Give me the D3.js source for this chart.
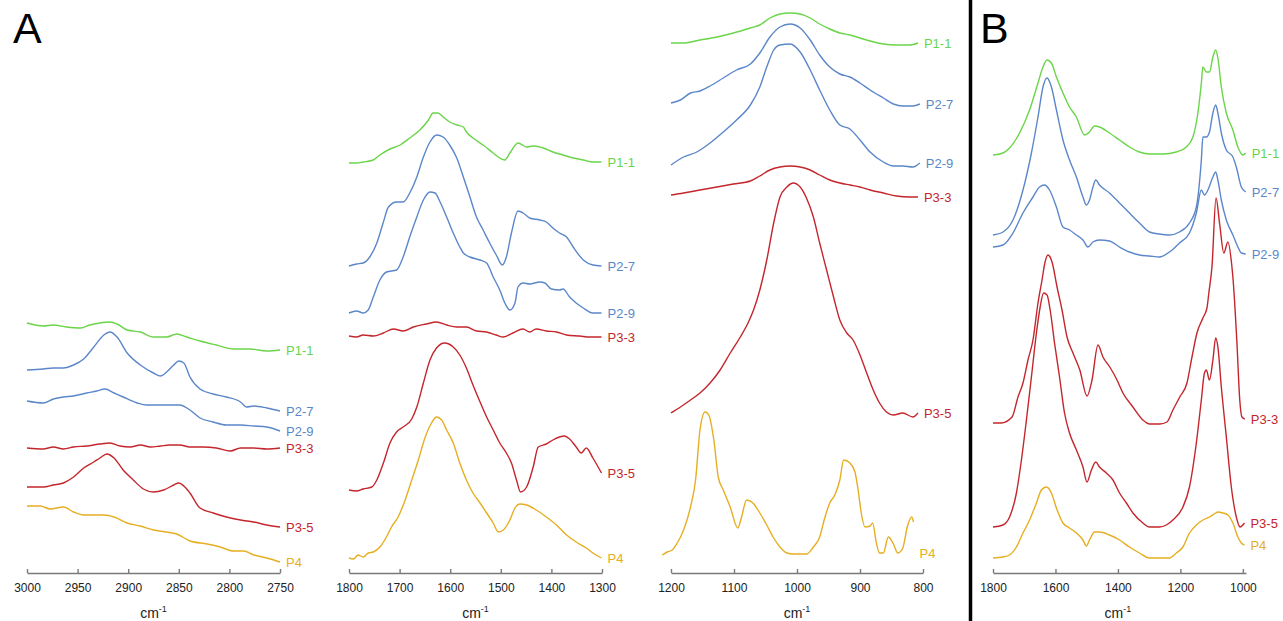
<!DOCTYPE html>
<html>
<head>
<meta charset="utf-8">
<script src="https://cdn.jsdelivr.net/npm/d3@7"></script>
<style>
    body { margin: 0; background: #fff; }
    svg text { font-family: "Liberation Sans", Arial, sans-serif; }
</style>
</head>
<body>
<svg id="chart" width="1283" height="621"></svg>
<script>
// series names and colours (same order in every panel)
const seriesNames = ["P1-1", "P2-7", "P2-9", "P3-3", "P3-5", "P4"];
const seriesColors = ["#6ad548", "#5b87c9", "#5b87c9", "#c3262c", "#c3262c", "#e6ae22"];

// A, 3000-2750 cm-1  [wavenumber, stacked absorbance a.u.]
const chP11 = [[3000,2.50],[2984,2.47],[2974,2.48],[2961,2.46],[2947,2.45],[2938,2.48],[2928,2.50],[2918,2.51],[2911,2.49],[2901,2.43],[2888,2.41],[2875,2.36],[2862,2.36],[2852,2.39],[2842,2.36],[2829,2.32],[2813,2.28],[2796,2.24],[2780,2.24],[2763,2.22],[2750,2.23]];
const chP27 = [[3000,2.03],[2984,2.04],[2974,2.05],[2964,2.05],[2954,2.08],[2944,2.14],[2934,2.26],[2924,2.38],[2918,2.41],[2911,2.36],[2901,2.20],[2888,2.08],[2875,2.00],[2868,1.97],[2862,2.01],[2855,2.08],[2850,2.12],[2845,2.10],[2839,1.96],[2829,1.84],[2816,1.79],[2803,1.76],[2789,1.71],[2783,1.66],[2776,1.67],[2763,1.65],[2750,1.62]];
const chP29 = [[3000,1.72],[2984,1.70],[2974,1.74],[2964,1.76],[2954,1.77],[2941,1.80],[2931,1.82],[2923,1.84],[2914,1.80],[2905,1.76],[2891,1.70],[2882,1.68],[2868,1.68],[2849,1.68],[2839,1.63],[2829,1.55],[2816,1.51],[2803,1.48],[2789,1.48],[2776,1.47],[2763,1.46],[2750,1.42]];
const chP33 = [[3000,1.25],[2984,1.24],[2974,1.26],[2964,1.24],[2954,1.26],[2941,1.27],[2928,1.29],[2918,1.30],[2908,1.27],[2898,1.26],[2888,1.28],[2878,1.26],[2868,1.27],[2859,1.28],[2849,1.28],[2839,1.26],[2826,1.26],[2813,1.25],[2799,1.22],[2789,1.25],[2776,1.25],[2763,1.24],[2750,1.25]];
const chP35 = [[3000,0.86],[2984,0.86],[2974,0.88],[2964,0.90],[2954,0.96],[2944,1.05],[2934,1.11],[2928,1.15],[2921,1.19],[2914,1.15],[2905,1.03],[2895,0.93],[2885,0.84],[2875,0.81],[2865,0.83],[2855,0.88],[2850,0.90],[2845,0.87],[2839,0.80],[2829,0.65],[2816,0.60],[2803,0.56],[2789,0.53],[2776,0.51],[2763,0.48],[2750,0.46]];
const chP4 = [[3000,0.67],[2987,0.67],[2977,0.64],[2964,0.66],[2954,0.61],[2944,0.58],[2934,0.58],[2924,0.58],[2914,0.56],[2901,0.50],[2888,0.47],[2875,0.43],[2862,0.41],[2852,0.39],[2839,0.32],[2822,0.29],[2809,0.26],[2796,0.22],[2786,0.22],[2776,0.18],[2763,0.15],[2750,0.11]];

// A, 1800-1300 cm-1
const fpP11 = [[1800,4.10],[1785,4.10],[1772,4.11],[1752,4.13],[1739,4.18],[1719,4.24],[1699,4.28],[1680,4.35],[1660,4.43],[1643,4.53],[1634,4.60],[1624,4.60],[1614,4.56],[1601,4.51],[1587,4.48],[1574,4.46],[1568,4.41],[1555,4.35],[1535,4.28],[1515,4.20],[1502,4.15],[1492,4.13],[1482,4.20],[1466,4.30],[1449,4.26],[1436,4.27],[1416,4.25],[1397,4.21],[1377,4.18],[1357,4.15],[1337,4.13],[1318,4.11],[1301,4.11]];
const fpP27 = [[1800,3.07],[1785,3.09],[1772,3.10],[1759,3.16],[1745,3.30],[1732,3.51],[1722,3.66],[1706,3.71],[1693,3.71],[1680,3.80],[1666,3.96],[1653,4.16],[1640,4.31],[1627,4.38],[1614,4.36],[1601,4.28],[1587,4.15],[1574,3.96],[1561,3.76],[1548,3.56],[1535,3.43],[1522,3.30],[1509,3.18],[1497,3.08],[1489,3.16],[1479,3.40],[1466,3.62],[1456,3.60],[1443,3.55],[1423,3.53],[1410,3.51],[1397,3.45],[1384,3.40],[1370,3.36],[1357,3.26],[1337,3.13],[1318,3.08],[1301,3.07]];
const fpP29 = [[1800,2.60],[1785,2.62],[1772,2.60],[1762,2.63],[1752,2.76],[1739,2.93],[1726,3.01],[1706,3.03],[1693,3.16],[1680,3.36],[1666,3.56],[1653,3.73],[1640,3.81],[1630,3.80],[1620,3.71],[1607,3.56],[1594,3.40],[1581,3.26],[1574,3.20],[1561,3.16],[1541,3.13],[1528,3.10],[1515,2.96],[1502,2.83],[1492,2.70],[1482,2.63],[1472,2.70],[1466,2.86],[1456,2.90],[1443,2.89],[1423,2.91],[1413,2.90],[1400,2.84],[1384,2.83],[1377,2.84],[1364,2.76],[1351,2.70],[1337,2.65],[1318,2.60],[1301,2.60]];
const fpP33 = [[1800,2.37],[1785,2.36],[1772,2.38],[1752,2.37],[1732,2.40],[1712,2.44],[1693,2.42],[1673,2.46],[1647,2.49],[1627,2.51],[1607,2.48],[1587,2.46],[1568,2.46],[1548,2.42],[1528,2.41],[1509,2.38],[1495,2.36],[1476,2.40],[1456,2.44],[1443,2.41],[1430,2.44],[1410,2.42],[1390,2.41],[1370,2.38],[1344,2.37],[1324,2.36],[1301,2.36]];
const fpP35 = [[1800,0.83],[1785,0.82],[1772,0.84],[1755,0.86],[1745,0.93],[1732,1.10],[1719,1.30],[1706,1.41],[1693,1.46],[1676,1.54],[1666,1.66],[1653,1.90],[1640,2.13],[1627,2.25],[1611,2.30],[1594,2.26],[1581,2.18],[1568,2.05],[1555,1.88],[1541,1.71],[1528,1.56],[1515,1.43],[1502,1.30],[1489,1.20],[1479,1.10],[1469,0.93],[1461,0.81],[1449,0.86],[1436,1.06],[1426,1.26],[1410,1.29],[1397,1.33],[1384,1.36],[1374,1.37],[1364,1.34],[1351,1.26],[1341,1.20],[1331,1.25],[1318,1.15],[1301,1.00]];
const fpP4 = [[1800,0.15],[1791,0.14],[1782,0.18],[1772,0.16],[1762,0.20],[1752,0.21],[1739,0.26],[1726,0.36],[1716,0.46],[1703,0.56],[1689,0.73],[1676,0.93],[1663,1.13],[1650,1.35],[1637,1.50],[1627,1.56],[1617,1.53],[1607,1.43],[1594,1.30],[1581,1.10],[1568,0.93],[1555,0.80],[1541,0.70],[1528,0.60],[1515,0.50],[1505,0.41],[1495,0.43],[1482,0.53],[1472,0.65],[1462,0.69],[1449,0.68],[1430,0.63],[1410,0.56],[1390,0.48],[1370,0.38],[1351,0.31],[1331,0.25],[1318,0.20],[1301,0.15]];

// A, 1200-800 cm-1
const cbP11 = [[1200,5.30],[1180,5.30],[1154,5.33],[1127,5.36],[1101,5.40],[1074,5.45],[1059,5.48],[1043,5.55],[1027,5.59],[1011,5.60],[995,5.59],[979,5.55],[964,5.49],[948,5.44],[932,5.40],[916,5.38],[900,5.35],[884,5.32],[863,5.29],[842,5.28],[821,5.28],[808,5.30]];
const cbP27 = [[1200,4.70],[1185,4.73],[1169,4.80],[1154,4.82],[1138,4.87],[1117,4.95],[1096,5.03],[1074,5.09],[1059,5.20],[1043,5.36],[1027,5.46],[1011,5.49],[995,5.45],[979,5.33],[964,5.18],[948,5.06],[932,4.99],[916,4.96],[900,4.90],[884,4.83],[863,4.75],[847,4.69],[832,4.67],[816,4.67],[805,4.69]];
const cbP29 = [[1200,4.08],[1180,4.16],[1159,4.21],[1138,4.30],[1117,4.41],[1096,4.53],[1074,4.68],[1059,4.86],[1048,5.06],[1037,5.23],[1027,5.28],[1011,5.29],[995,5.21],[979,5.03],[964,4.83],[948,4.63],[932,4.48],[916,4.44],[900,4.33],[884,4.21],[863,4.11],[847,4.07],[832,4.07],[816,4.06],[805,4.10]];
const cbP33 = [[1200,3.78],[1180,3.80],[1154,3.83],[1127,3.86],[1101,3.89],[1074,3.92],[1059,3.97],[1043,4.03],[1027,4.06],[1011,4.07],[995,4.06],[979,4.03],[964,3.98],[948,3.93],[932,3.90],[916,3.88],[900,3.86],[884,3.83],[863,3.80],[842,3.77],[821,3.76],[808,3.76]];
const cbP35 = [[1200,1.60],[1185,1.66],[1169,1.73],[1154,1.80],[1138,1.90],[1122,2.03],[1106,2.20],[1090,2.36],[1077,2.51],[1069,2.63],[1059,2.83],[1048,3.13],[1037,3.50],[1027,3.76],[1016,3.86],[1006,3.90],[995,3.86],[985,3.75],[974,3.56],[964,3.30],[953,3.03],[942,2.76],[932,2.53],[921,2.40],[911,2.33],[900,2.18],[890,2.01],[879,1.83],[869,1.70],[858,1.61],[847,1.58],[832,1.60],[816,1.56],[808,1.60]];
const cbP4 = [[1214,0.18],[1206,0.21],[1198,0.23],[1191,0.29],[1180,0.43],[1169,0.66],[1161,0.93],[1154,1.43],[1146,1.61],[1140,1.58],[1132,1.33],[1125,0.96],[1117,0.83],[1106,0.66],[1094,0.45],[1088,0.56],[1080,0.73],[1070,0.70],[1059,0.60],[1048,0.48],[1038,0.36],[1027,0.26],[1016,0.20],[1006,0.19],[995,0.19],[985,0.19],[974,0.26],[964,0.36],[956,0.55],[948,0.70],[940,0.78],[932,0.93],[926,1.13],[916,1.10],[908,1.01],[903,0.83],[898,0.60],[892,0.46],[884,0.47],[880,0.50],[874,0.30],[869,0.20],[863,0.20],[855,0.36],[847,0.29],[840,0.20],[832,0.25],[825,0.46],[818,0.56],[815,0.51]];

// B, 1800-1000 cm-1
const bP11 = [[1800,4.18],[1768,4.20],[1747,4.25],[1715,4.40],[1683,4.63],[1656,4.90],[1640,5.06],[1627,5.13],[1613,5.10],[1597,4.96],[1576,4.80],[1555,4.66],[1533,4.56],[1507,4.38],[1491,4.41],[1475,4.47],[1459,4.46],[1427,4.40],[1395,4.33],[1363,4.26],[1331,4.21],[1299,4.19],[1256,4.19],[1213,4.21],[1181,4.26],[1160,4.36],[1144,4.60],[1133,4.90],[1128,5.06],[1117,5.01],[1107,5.01],[1096,5.16],[1087,5.23],[1080,5.15],[1069,4.86],[1053,4.60],[1032,4.43],[1016,4.26],[1000,4.18],[991,4.20]];
const bP27 = [[1800,3.38],[1768,3.41],[1736,3.53],[1704,3.83],[1677,4.20],[1656,4.56],[1640,4.86],[1627,4.95],[1613,4.86],[1597,4.63],[1576,4.33],[1555,4.13],[1533,3.96],[1512,3.76],[1501,3.68],[1491,3.73],[1480,3.86],[1471,3.93],[1459,3.88],[1427,3.80],[1395,3.70],[1363,3.60],[1331,3.50],[1299,3.41],[1267,3.39],[1235,3.38],[1203,3.41],[1171,3.50],[1149,3.66],[1133,4.13],[1128,4.36],[1117,4.36],[1107,4.41],[1096,4.60],[1087,4.68],[1080,4.60],[1069,4.40],[1053,4.23],[1032,4.16],[1021,4.06],[1005,3.86],[991,3.81]];
const bP29 = [[1800,3.26],[1768,3.28],[1736,3.40],[1704,3.60],[1672,3.76],[1651,3.86],[1635,3.88],[1619,3.83],[1597,3.66],[1576,3.46],[1555,3.43],[1533,3.38],[1512,3.33],[1496,3.26],[1480,3.31],[1459,3.33],[1427,3.32],[1395,3.26],[1363,3.21],[1331,3.18],[1299,3.17],[1267,3.16],[1235,3.21],[1203,3.30],[1171,3.40],[1149,3.60],[1133,3.83],[1123,3.78],[1112,3.83],[1096,3.96],[1087,4.01],[1080,3.93],[1069,3.73],[1053,3.53],[1032,3.38],[1016,3.26],[1005,3.20],[991,3.19]];
const bP33 = [[1800,1.50],[1774,1.50],[1739,1.56],[1720,1.76],[1704,1.90],[1688,2.13],[1672,2.33],[1656,2.70],[1643,2.93],[1634,3.10],[1624,3.18],[1611,3.11],[1595,2.86],[1579,2.63],[1563,2.36],[1544,2.20],[1522,2.03],[1499,1.77],[1483,1.93],[1464,2.28],[1448,2.16],[1426,2.06],[1403,1.93],[1384,1.80],[1352,1.66],[1320,1.53],[1298,1.49],[1266,1.49],[1243,1.51],[1224,1.63],[1202,1.76],[1179,1.90],[1163,2.16],[1147,2.40],[1128,2.55],[1115,2.65],[1109,2.80],[1099,3.06],[1086,3.75],[1074,3.48],[1061,3.20],[1048,3.31],[1035,3.06],[1032,2.96],[1019,2.30],[1010,1.73],[1003,1.56],[994,1.54]];
const bP35 = [[1800,0.46],[1768,0.48],[1747,0.56],[1725,0.80],[1709,1.13],[1693,1.53],[1677,1.96],[1661,2.40],[1649,2.66],[1638,2.80],[1627,2.78],[1617,2.63],[1603,2.30],[1587,1.96],[1571,1.60],[1555,1.40],[1533,1.23],[1512,1.06],[1499,0.91],[1485,1.03],[1471,1.11],[1459,1.06],[1437,1.00],[1416,0.93],[1395,0.80],[1373,0.70],[1352,0.60],[1320,0.50],[1299,0.46],[1267,0.46],[1245,0.48],[1224,0.53],[1192,0.66],[1171,0.86],[1149,1.30],[1133,1.73],[1123,2.00],[1117,2.03],[1107,1.93],[1096,2.13],[1087,2.35],[1080,2.26],[1069,1.86],[1053,1.36],[1037,0.86],[1021,0.56],[1009,0.46],[1000,0.48],[995,0.50]];
const bP4 = [[1800,0.15],[1768,0.16],[1747,0.18],[1725,0.26],[1704,0.40],[1683,0.53],[1661,0.70],[1645,0.83],[1629,0.86],[1613,0.80],[1597,0.65],[1576,0.50],[1555,0.45],[1533,0.40],[1512,0.33],[1501,0.27],[1491,0.33],[1475,0.41],[1459,0.41],[1427,0.38],[1395,0.33],[1363,0.26],[1331,0.20],[1299,0.15],[1267,0.15],[1235,0.15],[1213,0.20],[1192,0.26],[1171,0.40],[1149,0.48],[1128,0.53],[1107,0.56],[1087,0.60],[1080,0.61],[1064,0.60],[1048,0.58],[1032,0.50],[1016,0.36],[1005,0.30],[995,0.28]];

// axis ticks
const chTicks = [3000, 2950, 2900, 2850, 2800, 2750];
const fpTicks = [1800, 1700, 1600, 1500, 1400, 1300];
const cbTicks = [1200, 1100, 1000, 900, 800];
const bTicks = [1800, 1600, 1400, 1200, 1000];

// label level that does not follow the curve end (a.u.)
const cbLabelLevel = {"P4": 0.20};

class SpectrumPanel {
    constructor(svg, opt) {
        this.svg = svg;
        this.domain = opt.domain;
        this.range = opt.range;
        this.ticks = opt.ticks;
        this.series = opt.series;
        this.labelLevel = opt.labelLevel || {};
        this.axisY = 573;
    };

    init() {
        this.xScale = d3.scaleLinear().domain(this.domain).range(this.range);
        // offset absorbance, no visible axis
        this.yScale = d3.scaleLinear().domain([0, 5.73]).range([this.axisY, 0]);
        this.axis = this.svg.append("g");
        this.container = this.svg.append("g");

        this._drawAxis();
        this._drawLines();
        this._drawLabels();
    };

    _drawAxis() {
        this.axis
            .attr("transform", `translate(0, ${this.axisY})`)
            .call(d3.axisBottom(this.xScale)
                .tickValues(this.ticks)
                .tickFormat(d3.format("d"))
                .tickSize(-4).tickSizeOuter(0).tickPadding(10));
        this.axis.select(".domain")
            .style("stroke", "#7a7a7a")
            .style("stroke-width", 1.6);
        this.axis.selectAll(".tick line")
            .style("stroke", "#7a7a7a")
            .style("stroke-width", 1.4);
        this.axis.selectAll(".tick text")
            .style("font-size", "12px")
            .style("fill", "#222");
        // cm-1 title
        let mid = (this.xScale(this.ticks[0]) + this.xScale(this.ticks[this.ticks.length - 1])) / 2;
        let title = this.svg.append("text")
            .attr("x", mid)
            .attr("y", 618)
            .attr("text-anchor", "middle")
            .style("font-size", "14px")
            .style("fill", "#222");
        title.append("tspan").text("cm");
        title.append("tspan").attr("dy", -6).style("font-size", "9px").text("-1");
    };

    _drawLines() {
        const line = d3.line()
            .x(d => this.xScale(d[0]))
            .y(d => this.yScale(d[1]))
            .curve(d3.curveMonotoneX);
        this.container.selectAll("path.spectrum")
            .data(this.series)
            .join("path")
            .attr("class", "spectrum")
            .attr("d", d => line(d))
            .style("fill", "none")
            .style("stroke", (d, i) => seriesColors[i])
            .style("stroke-width", 1.4);
    };

    _drawLabels() {
        this.container.selectAll("text.label")
            .data(this.series)
            .join("text")
            .attr("class", "label")
            .attr("x", d => this.xScale(d[d.length - 1][0]) + 6)
            .attr("y", (d, i) => {
                let level = this.labelLevel[seriesNames[i]];
                return this.yScale(level !== undefined ? level : d[d.length - 1][1]);
            })
            .attr("dy", "0.35em")
            .style("font-size", "13px")
            .style("fill", (d, i) => seriesColors[i])
            .text((d, i) => seriesNames[i]);
    };
};

const svg = d3.select("#chart");

new SpectrumPanel(svg, {domain: [3000, 2750], range: [27, 280], ticks: chTicks,
    series: [chP11, chP27, chP29, chP33, chP35, chP4]}).init();
new SpectrumPanel(svg, {domain: [1800, 1300], range: [349, 602], ticks: fpTicks,
    series: [fpP11, fpP27, fpP29, fpP33, fpP35, fpP4]}).init();
new SpectrumPanel(svg, {domain: [1200, 800], range: [671, 923], ticks: cbTicks,
    series: [cbP11, cbP27, cbP29, cbP33, cbP35, cbP4], labelLevel: cbLabelLevel}).init();
new SpectrumPanel(svg, {domain: [1800, 990], range: [993, 1246], ticks: bTicks,
    series: [bP11, bP27, bP29, bP33, bP35, bP4]}).init();

// panel letters and divider
svg.append("text").attr("x", 13).attr("y", 43).style("font-size", "43px").style("fill", "#000").text("A");
svg.append("text").attr("x", 980).attr("y", 43).style("font-size", "43px").style("fill", "#000").text("B");
svg.append("line")
    .attr("x1", 970.5).attr("x2", 970.5)
    .attr("y1", 0).attr("y2", 621)
    .style("stroke", "#000")
    .style("stroke-width", 3.5);
</script>
</body>
</html>
